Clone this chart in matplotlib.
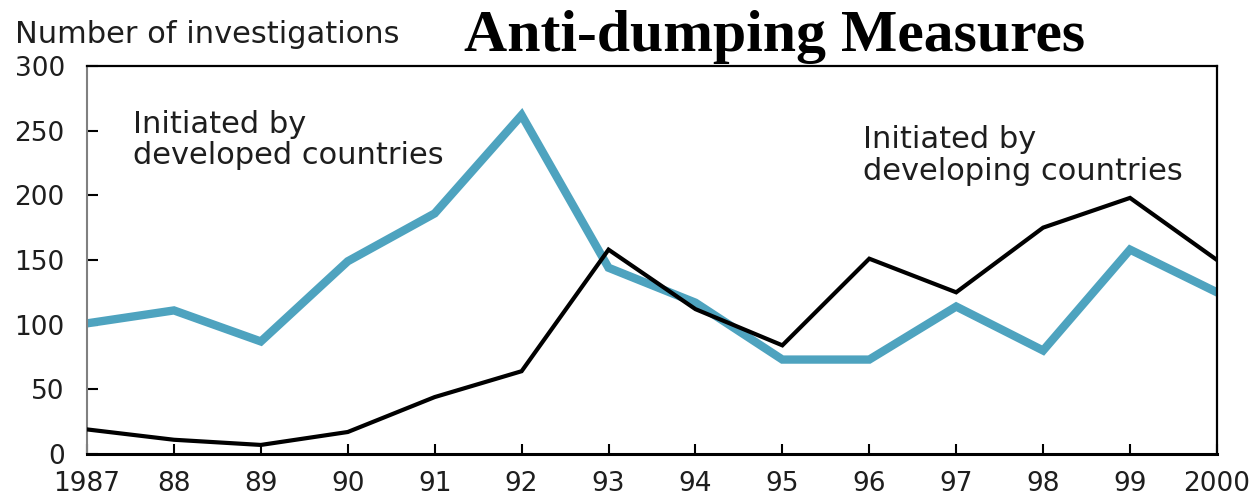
import matplotlib
matplotlib.use("Agg")
import matplotlib.pyplot as plt

# Anti-dumping investigations, 1987-2000
years = [1987, 1988, 1989, 1990, 1991, 1992, 1993,
         1994, 1995, 1996, 1997, 1998, 1999, 2000]
year_labels = ["1987", "88", "89", "90", "91", "92", "93",
               "94", "95", "96", "97", "98", "99", "2000"]
developed = [101, 111, 87, 149, 186, 262, 144, 117, 73, 73, 114, 80, 158, 125]
developing = [19, 11, 7, 17, 44, 64, 158, 112, 84, 151, 125, 175, 198, 150]
y_ticks = [0, 50, 100, 150, 200, 250, 300]

BLUE = "#4ea3bf"
TXT = "#1e1e1e"

fig = plt.figure(figsize=(12.52, 4.96), dpi=100)
ax = fig.add_axes([0.0695, 0.0847, 0.9025, 0.7823])

ax.plot(years, developed, color=BLUE, lw=6.0, solid_joinstyle="miter", zorder=2)
ax.plot(years, developing, color="black", lw=3.0, solid_joinstyle="miter", zorder=3)

ax.set_xlim(1987, 2000)
ax.set_ylim(0, 300)
ax.set_xticks(years)
ax.set_xticklabels(year_labels)
ax.set_yticks(y_ticks)

ax.tick_params(axis="both", direction="in", colors="black", labelcolor=TXT,
               labelsize=19)
ax.tick_params(axis="y", length=8, width=1.5, pad=16)
ax.tick_params(axis="x", length=7, width=1.5, pad=12)

ax.spines["left"].set_color("#808080")
ax.spines["left"].set_linewidth(1.5)
ax.spines["bottom"].set_linewidth(2.2)
ax.spines["top"].set_linewidth(1.6)
ax.spines["right"].set_linewidth(1.6)

ax.text(1987.53, 266, "Initiated by\ndeveloped countries", fontsize=22,
        color=TXT, va="top", ha="left", linespacing=1.1)
ax.text(1995.93, 254, "Initiated by\ndeveloping countries", fontsize=22,
        color=TXT, va="top", ha="left", linespacing=1.1)

fig.text(0.012, 0.93, "Number of investigations", fontsize=22, color=TXT,
         va="center", ha="left")
fig.text(0.619, 0.925, "Anti-dumping Measures", fontsize=43,
         family="Liberation Serif", weight="bold", color="black",
         va="center", ha="center")

fig.savefig("out.png", dpi=100)
